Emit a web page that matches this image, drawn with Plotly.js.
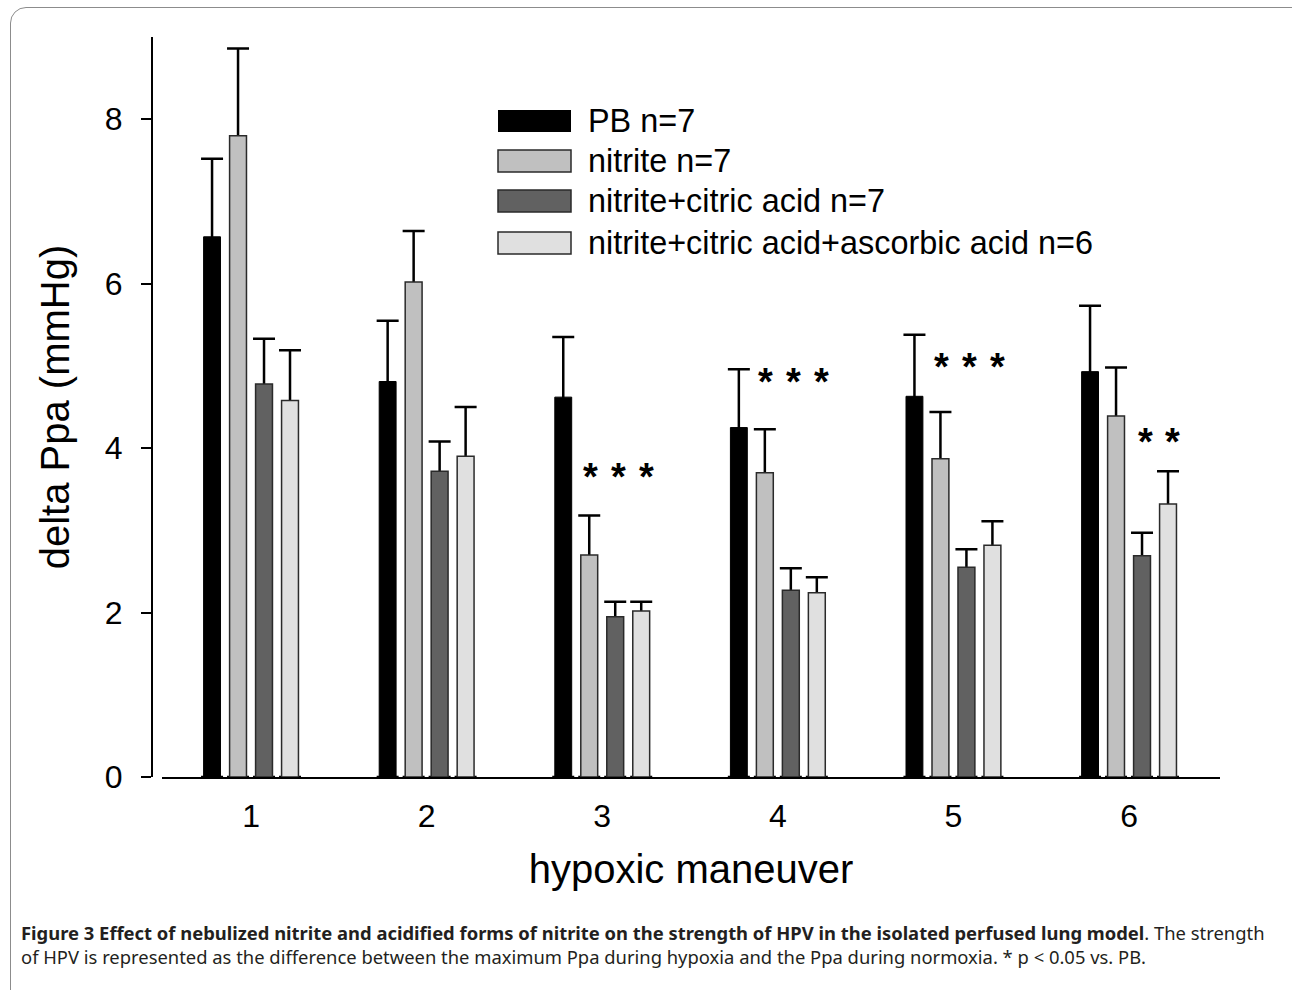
<!DOCTYPE html>
<html><head><meta charset="utf-8">
<script src="https://cdn.plot.ly/plotly-3.0.1.min.js"></script>
<style>
html,body{margin:0;padding:0;background:#fff;overflow:hidden}
#chart{width:1292px;height:990px;position:absolute;left:0;top:0}
#frame{position:absolute;left:10px;top:7px;width:1300px;height:1000px;border:1.5px solid #8c8c8c;border-radius:16px;pointer-events:none}
</style></head><body>
<div id="chart"></div><div id="frame"></div>
<script>
// ---- data ----
const maneuvers = [1, 2, 3, 4, 5, 6];
const tickLabels = ['1', '2', '3', '4', '5', '6'];
const seriesNames = ['PB n=7', 'nitrite n=7', 'nitrite+citric acid n=7', 'nitrite+citric acid+ascorbic acid n=6'];
const pb = [6.57, 4.81, 4.62, 4.25, 4.63, 4.93];
const pbErr = [0.95, 0.74, 0.73, 0.71, 0.75, 0.80];
const nitrite = [7.80, 6.02, 2.70, 3.70, 3.87, 4.39];
const nitriteErr = [1.06, 0.62, 0.48, 0.53, 0.57, 0.59];
const citric = [4.78, 3.72, 1.95, 2.27, 2.55, 2.69];
const citricErr = [0.55, 0.36, 0.18, 0.27, 0.22, 0.28];
const ascorbic = [4.58, 3.90, 2.02, 2.24, 2.82, 3.32];
const ascorbicErr = [0.61, 0.60, 0.11, 0.19, 0.29, 0.40];
// significance (* p < 0.05 vs. PB): series indices per maneuver
const sigSeries = [[], [], [1, 2, 3], [1, 2, 3], [1, 2, 3], [2, 3]];

// ---- styling / layout ----
const values = [pb, nitrite, citric, ascorbic];
const errors = [pbErr, nitriteErr, citricErr, ascorbicErr];
const fills = ['#000000', '#c0c0c0', '#616161', '#e0e0e0'];
const outlines = ['#000000', '#2a2a2a', '#2a2a2a', '#2a2a2a'];
const sigLevel = [null, null, 3.65, 4.80, 4.99, 4.07]; // label heights (layout)

const W = 1292, H = 990;
const M = {l: 100, r: 72, t: 37, b: 213};
const PW = W - M.l - M.r, PH = H - M.t - M.b;
const px = v => (v - M.l) / PW;
const py = v => (H - M.b - v) / PH;
const FONT = 'Liberation Sans, Arial, sans-serif';

const traces = [];
// error bars (drawn beneath the opaque bars so only the upper whisker shows)
values.forEach((vals, i) => {
  traces.push({
    type: 'bar', x: maneuvers, y: vals, offsetgroup: 'g' + i, showlegend: false, hoverinfo: 'skip',
    marker: {color: 'rgba(0,0,0,0)', line: {width: 0}},
    error_y: {type: 'data', symmetric: false, array: errors[i], arrayminus: vals,
              color: '#000', thickness: 2.5, width: 11}
  });
});
values.forEach((vals, i) => {
  traces.push({
    type: 'bar', x: maneuvers, y: vals, offsetgroup: 'g' + i, name: seriesNames[i], showlegend: false,
    marker: {color: fills[i], line: {color: outlines[i], width: i === 0 ? 1 : 1.5}}
  });
});

const annotations = [];
sigSeries.forEach((list, g) => {
  list.forEach(s => {
    annotations.push({x: maneuvers[g] + (s - 1.5) * 0.159 + 0.0115, y: sigLevel[g], xref: 'x', yref: 'y',
      text: '<b>*</b>', showarrow: false, xanchor: 'center', yanchor: 'middle',
      font: {family: FONT, size: 38, color: '#000'}});
  });
});

// legend (custom, wide swatches)
const shapes = [];
const rowY = [121, 161, 201, 243];
seriesNames.forEach((n, i) => {
  shapes.push({type: 'rect', xref: 'paper', yref: 'paper', x0: px(498), x1: px(571),
    y0: py(rowY[i] + 11), y1: py(rowY[i] - 11),
    fillcolor: fills[i], line: {color: outlines[i], width: i === 0 ? 0 : 1.5}});
  annotations.push({xref: 'paper', yref: 'paper', x: px(586), y: py(rowY[i]), text: n,
    showarrow: false, xanchor: 'left', yanchor: 'middle',
    font: {family: FONT, size: 32.4, color: '#000'}});
});

// caption
const CAP = 'Noto Sans, Open Sans, sans-serif';
annotations.push({xref: 'paper', yref: 'paper', x: px(19), y: py(932), xanchor: 'left', yanchor: 'middle',
  showarrow: false, align: 'left', font: {family: CAP, size: 18.4, color: '#231f20'},
  text: '<b>Figure 3 Effect of nebulized nitrite and acidified forms of nitrite on the strength of HPV in the isolated perfused lung model</b>. The strength'});
annotations.push({xref: 'paper', yref: 'paper', x: px(19), y: py(956), xanchor: 'left', yanchor: 'middle',
  showarrow: false, align: 'left', font: {family: CAP, size: 18.4, color: '#231f20'},
  text: 'of HPV is represented as the difference between the maximum Ppa during hypoxia and the Ppa during normoxia. * p &lt; 0.05 vs. PB.'});

const layout = {
  width: W, height: H, margin: M, paper_bgcolor: '#fff', plot_bgcolor: '#fff',
  barmode: 'group', bargap: 0.408, bargroupgap: 0.35, showlegend: false,
  font: {family: FONT, color: '#000'},
  xaxis: {range: [0.493, 6.518], domain: [px(162), 1], tickvals: maneuvers, ticktext: tickLabels,
    showline: true, linewidth: 2, linecolor: '#000', ticks: '', showgrid: false, zeroline: false,
    tickfont: {family: FONT, size: 32, color: '#000'}, ticklabelstandoff: 10,
    title: {text: 'hypoxic maneuver', font: {family: FONT, size: 40, color: '#000'}, standoff: 22}},
  yaxis: {range: [0, 9], anchor: 'free', position: px(152), showline: true, linewidth: 2, linecolor: '#000',
    ticks: 'outside', ticklen: 10, tickwidth: 2, tickcolor: '#000', tickvals: [0, 2, 4, 6, 8],
    showgrid: false, zeroline: false, tickfont: {family: FONT, size: 32, color: '#000'}, ticklabelstandoff: 12,
    title: {text: 'delta Ppa (mmHg)', font: {family: FONT, size: 40, color: '#000'}, standoff: 22}},
  shapes: shapes, annotations: annotations
};
Plotly.newPlot('chart', traces, layout, {staticPlot: true, displayModeBar: false});
</script>
</body></html>
